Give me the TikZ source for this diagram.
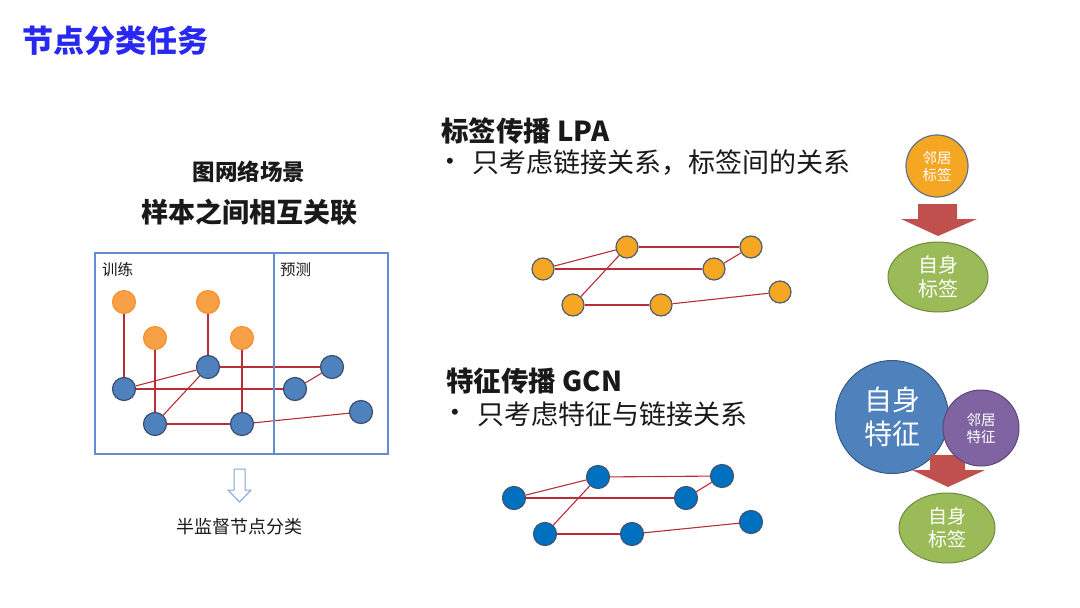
\documentclass[tikz,border=0pt]{standalone}
\usepackage{fontspec}
\setmainfont{Noto Sans CJK SC}
\newfontfamily\bulletfont{Liberation Sans}
\usetikzlibrary{backgrounds,shapes.geometric}
\definecolor{titleblue}{RGB}{40,40,240}
\definecolor{txt}{RGB}{25,25,25}
\definecolor{edgered}{RGB}{185,45,55}
\definecolor{nblue}{RGB}{79,129,189}
\definecolor{nblueb}{RGB}{56,80,110}
\definecolor{norange}{RGB}{248,160,70}
\definecolor{norangeb}{RGB}{250,140,40}
\definecolor{lpaor}{RGB}{245,166,35}
\definecolor{lpab}{RGB}{80,95,110}
\definecolor{gcnb}{RGB}{0,112,192}
\definecolor{gcnbb}{RGB}{60,85,115}
\definecolor{boxblue}{RGB}{100,140,210}
\definecolor{ggreen}{RGB}{155,187,89}
\definecolor{ggreenb}{RGB}{113,137,63}
\definecolor{purp}{RGB}{128,100,162}
\definecolor{purpb}{RGB}{92,71,118}
\definecolor{arrred}{RGB}{192,80,77}
\tikzset{
  blue node/.style={circle,fill=nblue,draw=nblueb,line width=1.2pt,minimum size=23pt,inner sep=0pt},
  orange node/.style={circle,fill=norange,draw=norangeb,line width=1pt,minimum size=23pt,inner sep=0pt},
  lpa node/.style={circle,fill=lpaor,draw=lpab,line width=1.2pt,minimum size=22pt,inner sep=0pt},
  gcn node/.style={circle,fill=gcnb,draw=gcnbb,line width=1.2pt,minimum size=23pt,inner sep=0pt},
  link/.style={draw=edgered,line width=1.1pt},
  vlink/.style={draw=edgered,line width=1.5pt},
  lbl/.style={text=txt,inner sep=0pt},
  bubble/.style={text=white,align=center,inner sep=0pt},
  bullet/.style={text=txt,inner sep=0pt,font=\bulletfont\fontsize{22}{26}\selectfont},
}
\begin{document}
\begin{tikzpicture}[x=1pt,y=-1pt]
\useasboundingbox (0,0) rectangle (1080,608);
% title
\node[anchor=west,text=titleblue,font=\fontsize{31}{36}\selectfont\bfseries,inner sep=0pt] (title) at (22,41) {节点分类任务};
% left panel texts
\node[lbl,font=\fontsize{22.5}{27}\selectfont\bfseries] (scene) at (249,172) {图网络场景};
\node[lbl,font=\fontsize{27}{32}\selectfont\bfseries] (rel) at (249,212) {样本之间相互关联};
% box
\draw[boxblue,line width=1.2pt] (95,253) rectangle (388,454);
\draw[boxblue,line width=1.2pt] (274,253) -- (274,454);
\node[lbl,anchor=west,font=\fontsize{15.5}{18}\selectfont] (train) at (102,270) {训练};
\node[lbl,anchor=west,font=\fontsize{15.5}{18}\selectfont] (pred) at (280,270) {预测};
% left graph
\node[orange node] (o1) at (124,302) {};
\node[orange node] (o2) at (155,338) {};
\node[orange node] (o3) at (208,302) {};
\node[orange node] (o4) at (242,338) {};
\node[blue node] (la) at (124,389) {};
\node[blue node] (lb) at (155,424) {};
\node[blue node] (lc) at (208,367) {};
\node[blue node] (ld) at (242,424) {};
\node[blue node] (le) at (295,389) {};
\node[blue node] (lf) at (332,367) {};
\node[blue node] (lg) at (361,412) {};
\begin{scope}[on background layer]
\draw[vlink] (o1) -- (la);
\draw[vlink] (o2) -- (lb);
\draw[vlink] (o3) -- (lc);
\draw[vlink] (o4) -- (ld);
\draw[link] (la) -- (lc);
\draw[link] (la) -- (le);
\draw[link] (lb) -- (lc);
\draw[vlink] (lb) -- (ld);
\draw[link] (lc) -- (lf);
\draw[link] (le) -- (lf);
\draw[link] (ld) -- (lg);
\end{scope}
% down outline arrow
\draw[boxblue!80,line width=1pt,fill=white,line join=miter] (234,469) -- (245,469) -- (245,490) -- (251,490) -- (239.5,502) -- (228,490) -- (234,490) -- cycle;
\node[lbl,font=\fontsize{18}{21}\selectfont] (semi) at (239,527) {半监督节点分类};
% LPA section
\node[lbl,anchor=west,font=\fontsize{27.5}{32}\selectfont\bfseries] (lpatitle) at (441,131) {标签传播 LPA};
\node[bullet,anchor=west] (b1) at (446,163) {•};
\node[lbl,anchor=west,font=\fontsize{27}{32}\selectfont] (lpatext) at (472,163) {只考虑链接关系，标签间的关系};
\node[lpa node] (pa) at (543,269) {};
\node[lpa node] (pb) at (573,305) {};
\node[lpa node] (pc) at (627,247) {};
\node[lpa node] (pd) at (661,305) {};
\node[lpa node] (pe) at (714,269) {};
\node[lpa node] (pf) at (751,247) {};
\node[lpa node] (pg) at (780,292) {};
\begin{scope}[on background layer]
\draw[link] (pa) -- (pc);
\draw[link] (pa) -- (pe);
\draw[link] (pb) -- (pc);
\draw[link] (pb) -- (pd);
\draw[link] (pc) -- (pf);
\draw[link] (pe) -- (pf);
\draw[link] (pd) -- (pg);
\end{scope}
% GCN section
\node[lbl,anchor=west,font=\fontsize{27.5}{32}\selectfont\bfseries] (gcntitle) at (446,381) {特征传播 GCN};
\node[bullet,anchor=west] (b2) at (451,414) {•};
\node[lbl,anchor=west,font=\fontsize{27}{32}\selectfont] (gcntext) at (477,414) {只考虑特征与链接关系};
\node[gcn node] (ga) at (514,498) {};
\node[gcn node] (gb) at (545,534) {};
\node[gcn node] (gc) at (598,477) {};
\node[gcn node] (gd) at (632,534) {};
\node[gcn node] (ge) at (686,498) {};
\node[gcn node] (gf) at (722,476) {};
\node[gcn node] (gg) at (751,522) {};
\begin{scope}[on background layer]
\draw[link] (ga) -- (gc);
\draw[link] (ga) -- (ge);
\draw[link] (gb) -- (gc);
\draw[link] (gb) -- (gd);
\draw[link] (gc) -- (gf);
\draw[link] (ge) -- (gf);
\draw[link] (gd) -- (gg);
\end{scope}
% right top
\node[circle,minimum size=62pt,fill=lpaor,draw=nblueb!80,line width=1.2pt,bubble,font=\fontsize{14.5}{17}\selectfont] (nlab) at (937,166) {邻居\\标签};
\fill[arrred] (918,204) -- (957,204) -- (957,219) -- (977,219) -- (938,236) -- (901,219) -- (918,219) -- cycle;
\node[ellipse,minimum width=100pt,minimum height=70pt,fill=ggreen,draw=ggreenb,line width=1pt,bubble,font=\fontsize{20}{24}\selectfont] (slab1) at (938,277) {自身\\标签};
% right bottom
\node[circle,minimum size=113pt,fill=nblue,draw=nblue!70!black,line width=1pt,bubble,font=\fontsize{28}{34}\selectfont] (sfeat) at (892,417) {自身\\特征};
\fill[arrred] (930,455) -- (965,455) -- (965,470) -- (985,470) -- (948,487) -- (912,470) -- (930,470) -- cycle;
\node[circle,minimum size=76pt,fill=purp,draw=purpb,line width=1pt,bubble,font=\fontsize{14.5}{17}\selectfont] (nfeat) at (981,428) {邻居\\特征};
\node[ellipse,minimum width=96pt,minimum height=70pt,fill=ggreen,draw=ggreenb,line width=1pt,bubble,font=\fontsize{19}{23}\selectfont] (slab2) at (947,528) {自身\\标签};
\end{tikzpicture}
\end{document}
